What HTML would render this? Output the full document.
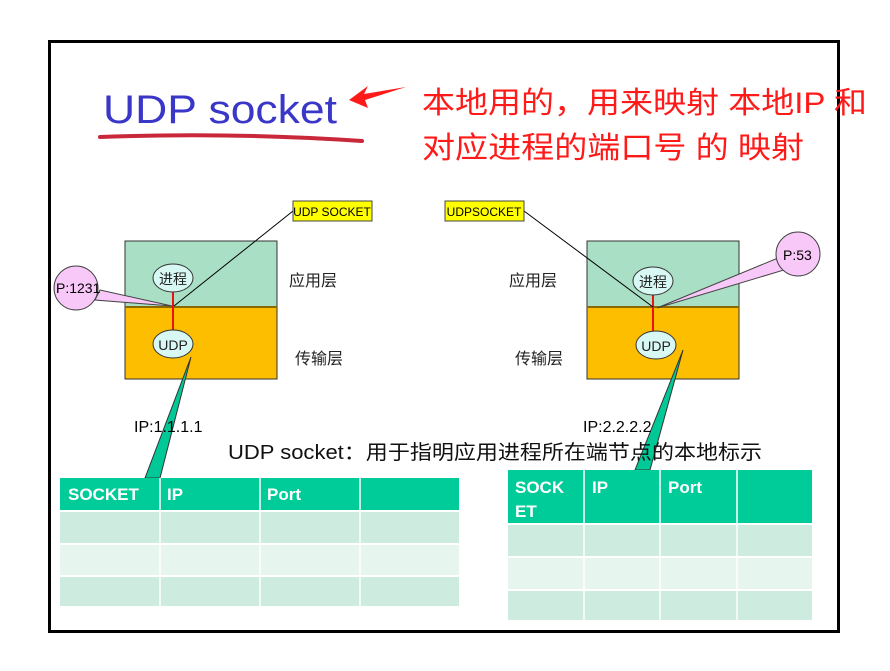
<!DOCTYPE html>
<html><head><meta charset="utf-8"><style>
body{margin:0;background:#fff;}
svg{display:block;}
text{font-family:"Liberation Sans","Noto Sans CJK SC",sans-serif;}
</style></head><body>
<svg width="890" height="671" viewBox="0 0 890 671" xmlns="http://www.w3.org/2000/svg">
<rect x="0" y="0" width="890" height="671" fill="#fff"/>
<rect x="49.5" y="41.5" width="789" height="590" fill="none" stroke="#000" stroke-width="3"/>

<!-- title -->
<text x="103" y="123" font-size="40" fill="#3a36c8" textLength="234" lengthAdjust="spacingAndGlyphs">UDP socket</text>
<path d="M100 137 Q230 132 362 141" stroke="#c8283a" stroke-width="4" fill="none" stroke-linecap="round"/>
<path d="M349 100 L368 86 L364 94 L406 87 L365 100 L368 108 Z" fill="#ff1a1a"/>
<text x="422" y="113" font-size="30" fill="#ff1a1a" textLength="445" lengthAdjust="spacingAndGlyphs">本地用的，用来映射 本地IP 和</text>
<text x="422" y="158" font-size="30" fill="#ff1a1a" textLength="382" lengthAdjust="spacingAndGlyphs">对应进程的端口号 的 映射</text>

<!-- left stack -->
<rect x="125" y="241" width="152" height="66" fill="#a9dfc5" stroke="#333"/>
<rect x="125" y="307" width="152" height="72" fill="#fdbe00" stroke="#333"/>
<line x1="125" y1="307" x2="277" y2="307" stroke="#8a6a00" stroke-width="2"/>
<line x1="173" y1="291" x2="173" y2="330" stroke="#ee1111" stroke-width="2"/>
<ellipse cx="173" cy="278" rx="20" ry="14" fill="#d8f8f4" stroke="#333"/>
<text x="173" y="284" font-size="14" text-anchor="middle" fill="#222">进程</text>
<ellipse cx="173" cy="344" rx="20" ry="14" fill="#d8f8f4" stroke="#333"/>
<text x="173" y="350" font-size="14" text-anchor="middle" fill="#222">UDP</text>
<line x1="174" y1="306" x2="293" y2="211" stroke="#000"/>
<rect x="293" y="201" width="79" height="20" fill="#ffff00" stroke="#444"/>
<text x="332" y="216" font-size="12" text-anchor="middle">UDP SOCKET</text>
<path d="M100 290 L172 306 L95 300 Z" fill="#f8c8f8" stroke="#444"/>
<circle cx="76" cy="288" r="22" fill="#f8c8f8" stroke="#444"/>
<text x="56" y="293" font-size="14">P:1231</text>
<text x="289" y="286" font-size="16" fill="#222">应用层</text>
<text x="295" y="364" font-size="16" fill="#222">传输层</text>
<path d="M191 357 L160 478 L145 478 Z" fill="#00c896" stroke="#333"/>
<text x="134" y="432" font-size="16">IP:1.1.1.1</text>

<!-- right stack -->
<rect x="587" y="241" width="152" height="66" fill="#a9dfc5" stroke="#333"/>
<rect x="587" y="307" width="152" height="72" fill="#fdbe00" stroke="#333"/>
<line x1="587" y1="307" x2="739" y2="307" stroke="#8a6a00" stroke-width="2"/>
<line x1="653" y1="292" x2="653" y2="331" stroke="#ee1111" stroke-width="2"/>
<ellipse cx="653" cy="281" rx="20" ry="14" fill="#d8f8f4" stroke="#333"/>
<text x="653" y="287" font-size="14" text-anchor="middle" fill="#222">进程</text>
<ellipse cx="656" cy="345" rx="20" ry="14" fill="#d8f8f4" stroke="#333"/>
<text x="656" y="351" font-size="14" text-anchor="middle" fill="#222">UDP</text>
<line x1="524" y1="211" x2="653" y2="307" stroke="#000"/>
<rect x="445" y="201" width="79" height="20" fill="#ffff00" stroke="#444"/>
<text x="484" y="216" font-size="12" text-anchor="middle">UDPSOCKET</text>
<path d="M778 258 L657 308 L784 270 Z" fill="#f8c8f8" stroke="#444"/>
<circle cx="798" cy="254" r="22" fill="#f8c8f8" stroke="#444"/>
<text x="783" y="260" font-size="14">P:53</text>
<text x="509" y="286" font-size="16" fill="#222">应用层</text>
<text x="515" y="364" font-size="16" fill="#222">传输层</text>
<path d="M683 350 L650 470 L635 470 Z" fill="#00c896" stroke="#333"/>
<text x="583" y="432" font-size="16">IP:2.2.2.2</text>

<text x="228" y="459" font-size="20" fill="#111" textLength="534" lengthAdjust="spacingAndGlyphs">UDP socket：用于指明应用进程所在端节点的本地标示</text>

<!-- left table -->
<g>
<rect x="60" y="478" width="399" height="32" fill="#00cc99"/>
<rect x="60" y="512" width="399" height="31" fill="#cdebdf"/>
<rect x="60" y="545" width="399" height="30" fill="#e6f5ee"/>
<rect x="60" y="577" width="399" height="29" fill="#cdebdf"/>
<g stroke="#fff" stroke-width="1.5"><line x1="160" y1="478" x2="160" y2="606"/><line x1="260" y1="478" x2="260" y2="606"/><line x1="360" y1="478" x2="360" y2="606"/></g>
<g font-size="17" font-weight="bold" fill="#fff"><text x="68" y="500">SOCKET</text><text x="167" y="500">IP</text><text x="267" y="500">Port</text></g>
</g>
<!-- right table -->
<g>
<rect x="508" y="470" width="304" height="53" fill="#00cc99"/>
<rect x="508" y="525" width="304" height="31" fill="#cdebdf"/>
<rect x="508" y="558" width="304" height="31" fill="#e6f5ee"/>
<rect x="508" y="591" width="304" height="29" fill="#cdebdf"/>
<g stroke="#fff" stroke-width="1.5"><line x1="584" y1="470" x2="584" y2="620"/><line x1="660" y1="470" x2="660" y2="620"/><line x1="737" y1="470" x2="737" y2="620"/></g>
<g font-size="17" font-weight="bold" fill="#fff"><text x="515" y="493">SOCK</text><text x="515" y="517">ET</text><text x="592" y="493">IP</text><text x="668" y="493">Port</text></g>
</g>
</svg>
</body></html>
